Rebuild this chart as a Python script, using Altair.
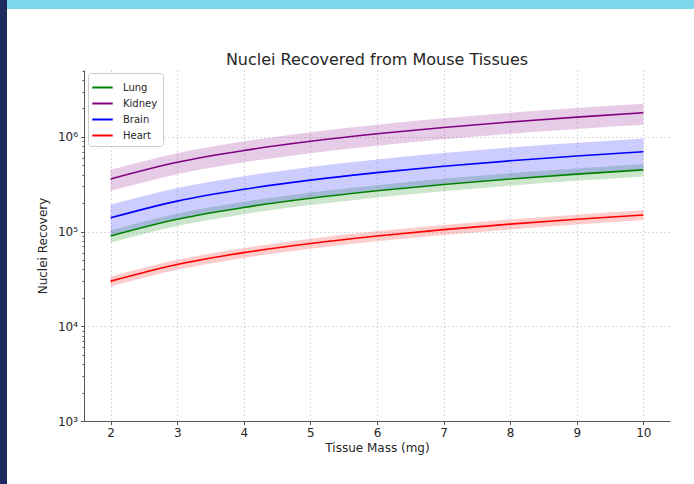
import altair as alt
import pandas as pd

# ---- data ----
mass = [2, 3, 4, 5, 6, 7, 8, 9, 10]
tissues = ["Lung", "Kidney", "Brain", "Heart"]
colors = ["#008000", "#800080", "#0000ff", "#ff0000"]

lung = [9.0e4, 1.35e5, 1.8e5, 2.25e5, 2.7e5, 3.15e5, 3.6e5, 4.05e5, 4.5e5]
lung_lo = [7.65e4, 1.15e5, 1.53e5, 1.91e5, 2.3e5, 2.68e5, 3.06e5, 3.44e5, 3.83e5]
lung_hi = [1.035e5, 1.55e5, 2.07e5, 2.59e5, 3.1e5, 3.62e5, 4.14e5, 4.66e5, 5.18e5]

kidney = [3.6e5, 5.4e5, 7.2e5, 9.0e5, 1.08e6, 1.26e6, 1.44e6, 1.62e6, 1.8e6]
kidney_lo = [2.7e5, 4.05e5, 5.4e5, 6.75e5, 8.1e5, 9.45e5, 1.08e6, 1.215e6, 1.35e6]
kidney_hi = [4.5e5, 6.75e5, 9.0e5, 1.125e6, 1.35e6, 1.575e6, 1.8e6, 2.025e6, 2.25e6]

brain = [1.4e5, 2.1e5, 2.8e5, 3.5e5, 4.2e5, 4.9e5, 5.6e5, 6.3e5, 7.0e5]
brain_lo = [9.1e4, 1.365e5, 1.82e5, 2.275e5, 2.73e5, 3.185e5, 3.64e5, 4.095e5, 4.55e5]
brain_hi = [1.93e5, 2.9e5, 3.86e5, 4.83e5, 5.8e5, 6.76e5, 7.73e5, 8.69e5, 9.66e5]

heart = [3.0e4, 4.5e4, 6.0e4, 7.5e4, 9.0e4, 1.05e5, 1.2e5, 1.35e5, 1.5e5]
heart_lo = [2.64e4, 3.96e4, 5.28e4, 6.6e4, 7.92e4, 9.24e4, 1.056e5, 1.188e5, 1.32e5]
heart_hi = [3.36e4, 5.04e4, 6.72e4, 8.4e4, 1.008e5, 1.176e5, 1.344e5, 1.512e5, 1.68e5]

x_ticks = [2, 3, 4, 5, 6, 7, 8, 9, 10]
y_major = [1000, 10000, 100000, 1000000]
y_minor = [2000, 3000, 4000, 5000, 6000, 7000, 8000, 9000,
           20000, 30000, 40000, 50000, 60000, 70000, 80000, 90000,
           200000, 300000, 400000, 500000, 600000, 700000, 800000, 900000,
           2000000, 3000000, 4000000, 5000000]

series = {
    "Lung": (lung, lung_lo, lung_hi),
    "Kidney": (kidney, kidney_lo, kidney_hi),
    "Brain": (brain, brain_lo, brain_hi),
    "Heart": (heart, heart_lo, heart_hi),
}
rows = []
for order, name in enumerate(tissues):
    mid, lo, hi = series[name]
    for m, v, l, h in zip(mass, mid, lo, hi):
        rows.append({"mass": m, "tissue": name, "value": v, "lower": l,
                     "upper": h, "order": order})
df = pd.DataFrame(rows)

FONT = "DejaVu Sans"
TXT = "#262626"
GRID = "#c4c4c4"

x_enc = alt.X("mass:Q",
              scale=alt.Scale(domain=[1.6, 10.4], nice=False, zero=False),
              axis=alt.Axis(values=x_ticks, format="d", title="Tissue Mass (mg)",
                            grid=True, gridColor=GRID, gridDash=[1.5, 2.5],
                            gridOpacity=0.8, tickSize=3.5, tickColor="#555",
                            domainColor="#555", labelFontSize=12, titleFontSize=12,
                            labelPadding=3, titlePadding=4, labelColor=TXT,
                            titleColor=TXT, labelFont=FONT, titleFont=FONT,
                            titleFontWeight="normal"))

major_test = "indexof([1000,10000,100000,1000000], datum.value) >= 0"
y_axis = alt.Axis(
    values=y_major + y_minor,
    labelExpr=("datum.value == 1000 ? '10\u00b3' : datum.value == 10000 ? '10\u2074' : "
               "datum.value == 100000 ? '10\u2075' : datum.value == 1000000 ? '10\u2076' : ''"),
    title="Nuclei Recovery", grid=True, gridColor=GRID, gridDash=[1.5, 2.5],
    gridOpacity={"condition": {"test": major_test, "value": 0.8}, "value": 0},
    tickSize={"condition": {"test": major_test, "value": 3.5}, "value": 2},
    tickColor="#555", domainColor="#555", labelFontSize=12, titleFontSize=12,
    labelPadding=3, titlePadding=8, labelColor=TXT, titleColor=TXT,
    labelFont=FONT, titleFont=FONT, titleFontWeight="normal",
    labelOverlap=False, labelBound=False)

y_scale = alt.Scale(type="log", domain=[1000, 5.1e6], nice=False)

color_scale = alt.Scale(domain=tissues, range=colors)
legend = alt.Legend(title=None, orient="none", legendX=4, legendY=3,
                    symbolType="M-1.2,0H1.2", symbolStrokeWidth=2, symbolOpacity=1,
                    symbolFillColor="transparent",
                    symbolSize=289, labelFontSize=10, labelFont=FONT,
                    labelColor=TXT, fillColor="white",
                    strokeColor="#cccccc", cornerRadius=3,
                    padding=5, rowPadding=1, labelOffset=11)

base = alt.Chart(df)

bands = base.mark_area(opacity=0.2, interpolate="monotone").encode(
    x=x_enc,
    y=alt.Y("lower:Q", scale=y_scale, axis=y_axis),
    y2="upper:Q",
    color=alt.Color("tissue:N", scale=color_scale, sort=tissues, legend=legend),
    detail="tissue:N",
)

lines = base.mark_line(strokeWidth=1.6, interpolate="monotone").encode(
    x=x_enc,
    y=alt.Y("value:Q", scale=y_scale, axis=y_axis),
    color=alt.Color("tissue:N", scale=color_scale, sort=tissues, legend=legend),
)

top_bar = alt.Chart(alt.Data(values=[{}])).mark_rect(color="#7fd7eb").encode(
    x=alt.value(-84), x2=alt.value(610), y=alt.value(-70), y2=alt.value(-61))
left_bar = alt.Chart(alt.Data(values=[{}])).mark_rect(color="#1d2b5e").encode(
    x=alt.value(-84), x2=alt.value(-77), y=alt.value(-70), y2=alt.value(414))

chart = alt.layer(bands, lines, top_bar, left_bar).properties(
    width=586, height=351,
    autosize=alt.AutoSizeParams(type="none"),
    padding={"left": 84, "top": 70, "right": 24, "bottom": 63},
    background="white",
    title=alt.TitleParams("Nuclei Recovered from Mouse Tissues", fontSize=16,
                          font=FONT, fontWeight="normal", color=TXT, offset=-68,
                          anchor="middle", frame="group"),
).configure_view(stroke=None)

chart.save("out.html", embed_options={"renderer": "svg", "actions": False})
